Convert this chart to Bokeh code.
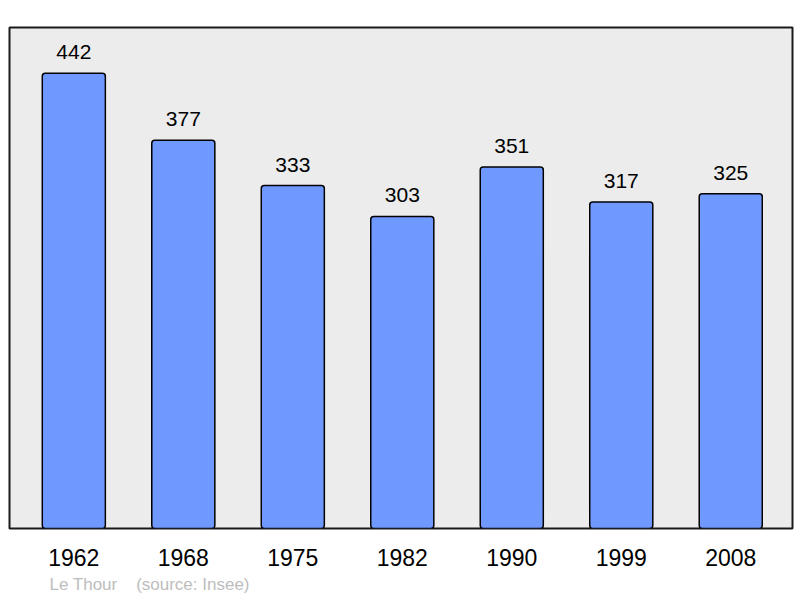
from bokeh.plotting import figure
from bokeh.models import Range1d, FixedTicker, Title
from bokeh.embed import file_html
from bokeh.resources import INLINE
from bokeh.core.properties import value

years = ["1962", "1968", "1975", "1982", "1990", "1999", "2008"]
population = [442, 377, 333, 303, 351, 317, 325]
xpos = list(range(len(years)))

p = figure(width=800, height=598, output_backend="svg", toolbar_location=None,
           x_range=Range1d(-0.5875, 6.564), y_range=Range1d(0, 486.4),
           min_border_left=9, min_border_right=8, min_border_top=27, min_border_bottom=70)
p.background_fill_color = "#ececec"
p.border_fill_color = "white"
p.outline_line_color = "#1a1a1a"
p.outline_line_width = 2
p.grid.visible = False
p.yaxis.visible = False

p.vbar(x=xpos, top=population, width=0.576, bottom=0,
       fill_color="#7099ff", line_color="black", line_width=1.5, border_radius=3)

p.text(x=xpos, y=population, text=[str(v) for v in population], y_offset=-21,
       text_align="center", text_baseline="middle", text_font=value("Liberation Sans"),
       text_font_size="21px", text_color="black")

ax = p.xaxis[0]
ax.ticker = FixedTicker(ticks=xpos)
ax.major_label_overrides = {i: y for i, y in zip(xpos, years)}
ax.axis_line_color = None
ax.major_tick_line_color = None
ax.minor_tick_line_color = None
ax.major_label_text_font = "Liberation Sans"
ax.major_label_text_font_size = "23px"
ax.major_label_text_color = "black"
ax.major_label_standoff = 14

p.add_layout(Title(text="Le Thour\u00a0\u00a0\u00a0\u00a0(source: Insee)", align="left", offset=40,
                   text_font="Liberation Sans", text_font_size="17px",
                   text_font_style="normal", text_color="#bdbdbd", standoff=8), "below")

open("out.html", "w").write(file_html(p, INLINE))
